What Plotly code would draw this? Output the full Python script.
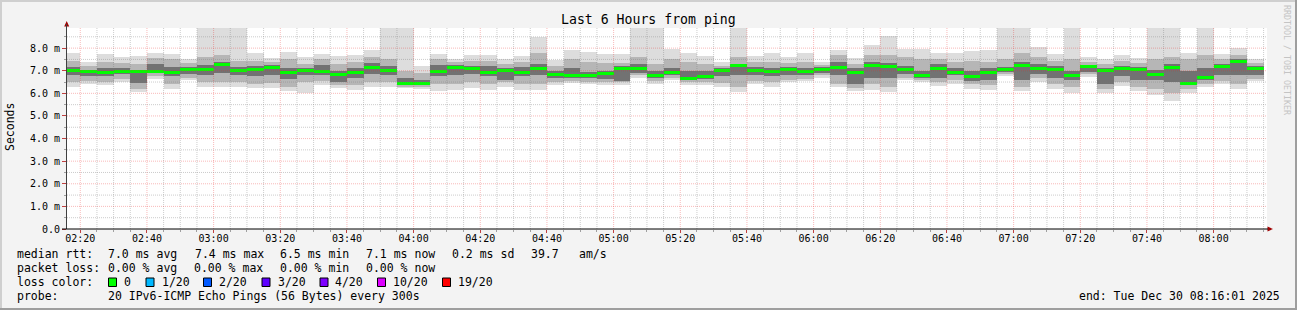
import plotly.graph_objects as go
import pandas as pd

# ---------------- data (milliseconds) ----------------
bin_start = pd.date_range("2025-12-30 02:15:00", periods=72, freq="5min")

ping_min = [6.26,6.43,6.38,6.52,6.08,6.64,6.20,6.60,6.29,6.26, 6.26,6.23,6.23,6.12,6.00,6.35,6.23,6.15,6.30,6.26,
            6.23,6.18,6.12,6.15,6.23,6.15,6.30,6.15,6.15,6.38, 6.45,6.40,6.35,6.38,6.67,6.42,6.60,6.38,6.38,6.30,
            6.08,6.40,6.30,6.49,6.55,6.70,6.26,6.12,6.15,6.08, 6.60,6.49,6.32,6.43,6.20,6.15,6.77,6.11,6.52,6.18,
            6.00,6.74,6.03,6.33,6.11,5.93,5.68,6.00,6.27,6.41, 6.18,6.56]
ping_lo2 = [6.50,6.55,6.50,6.65,6.20,6.75,6.40,6.70,6.50,6.50, 6.50,6.40,6.45,6.30,6.50,6.55,6.35,6.35,6.50,6.50,
            6.30,6.30,6.40,6.40,6.50,6.40,6.50,6.40,6.40,6.50, 6.55,6.50,6.50,6.50,6.80,6.55,6.70,6.50,6.50,6.45,
            6.30,6.55,6.50,6.60,6.65,6.80,6.40,6.25,6.40,6.30, 6.70,6.60,6.50,6.60,6.40,6.35,6.85,6.30,6.70,6.40,
            6.30,6.85,6.20,6.50,6.30,6.20,6.00,6.20,6.40,6.55, 6.40,6.65]
ping_lo3 = [6.80,6.75,6.75,6.85,6.45,6.90,6.75,6.85,6.80,6.90, 6.80,6.75,6.80,6.65,6.80,6.80,6.50,6.70,6.85,6.80,
            6.40,6.38,6.75,6.80,6.85,6.75,6.60,6.75,6.80,6.70, 6.70,6.70,6.65,6.55,6.90,6.70,6.80,6.60,6.65,6.75,
            6.80,6.80,6.75,6.80,6.80,6.90,6.80,6.40,6.70,6.70, 6.85,6.70,6.70,6.80,6.55,6.60,6.95,6.60,6.85,6.70,
            6.60,6.95,6.40,6.75,6.60,6.60,6.50,6.35,6.60,6.80, 6.80,6.80]
ping_med = [7.00,6.95,6.92,6.95,6.96,6.98,6.94,7.05,7.05,7.26, 7.01,7.05,7.13,6.91,6.99,6.98,6.82,6.94,7.16,7.02,
            6.45,6.43,6.98,7.14,7.11,6.92,6.99,6.94,7.11,6.85, 6.77,6.77,6.88,7.10,7.10,6.80,6.91,6.66,6.76,7.01,
            7.22,7.01,6.95,7.05,6.95,7.05,7.13,6.92,7.25,7.20, 7.07,6.79,7.08,6.94,6.74,6.92,7.04,7.24,7.11,7.07,
            6.81,7.17,6.99,7.11,7.04,6.85,7.14,6.45,6.72,7.18, 7.40,7.09]
ping_hi3 = [7.15,7.05,7.10,7.10,7.05,7.30,7.15,7.15,7.25,7.40, 7.15,7.20,7.25,7.10,7.10,7.25,7.00,7.10,7.35,7.20,
            6.70,6.60,7.25,7.25,7.20,7.20,7.10,7.15,7.30,7.00, 7.10,6.95,7.00,7.20,7.30,7.00,7.10,7.00,7.00,7.10,
            7.30,7.15,7.10,7.15,7.10,7.15,7.40,7.10,7.40,7.35, 7.20,7.00,7.30,7.10,7.00,7.10,7.15,7.40,7.30,7.20,
            7.00,7.25,7.10,7.20,7.15,7.05,7.30,7.00,7.10,7.30, 7.50,7.20]
ping_hi2 = [7.45,7.20,7.40,7.35,7.30,7.55,7.50,7.35,7.60,7.70, 7.45,7.45,7.40,7.50,7.30,7.50,7.30,7.40,7.60,7.50,
            7.00,6.90,7.50,7.40,7.45,7.45,7.30,7.40,7.80,7.20, 7.50,7.40,7.35,7.35,7.60,7.30,7.50,7.40,7.30,7.20,
            7.60,7.40,7.40,7.35,7.40,7.25,7.70,7.30,7.70,7.70, 7.60,7.50,7.50,7.40,7.45,7.40,7.50,7.80,7.60,7.45,
            7.50,7.40,7.30,7.45,7.35,7.50,7.60,7.50,7.70,7.50, 7.70,7.35]
ping_max = [7.79,7.38,7.75,7.61,7.66,7.79,7.75,7.53,9.50,9.50, 9.50,7.79,7.57,7.85,7.61,7.75,7.66,7.70,7.92,9.50,
            9.50,7.23,7.75,7.53,7.70,7.70,7.53,7.66,8.50,7.48, 7.92,7.82,7.75,7.75,9.50,9.50,7.95,7.78,7.66,7.38,
            9.50,7.63,7.79,7.61,7.79,7.38,7.91,7.56,8.15,8.54, 7.97,7.97,7.79,7.78,7.88,7.92,9.50,9.50,8.04,7.74,
            9.50,7.60,7.50,7.70,7.55,9.50,9.50,7.80,9.50,7.74, 7.99,7.50]

y_tick_vals = [0, 1, 2, 3, 4, 5, 6, 7, 8]
y_tick_text = ["0.0", "1.0 m", "2.0 m", "3.0 m", "4.0 m", "5.0 m", "6.0 m", "7.0 m", "8.0 m"]

loss_labels = ["0", "1/20", "2/20", "3/20", "4/20", "10/20", "19/20"]
loss_colors = ["#00ff00", "#00b8ff", "#0059ff", "#5e00ff", "#7e00ff", "#dd00ff", "#ff0000"]

rtt_stats = ["7.0 ms avg", "7.4 ms max", "6.5 ms min", "7.1 ms now", "0.2 ms sd", "39.7", "am/s"]
loss_stats = ["0.00 % avg", "0.00 % max", "0.00 % min", "0.00 % now"]

# ---------------- layout geometry ----------------
W, H = 1297, 310
L, R, T, B = 67, 30, 28, 81
PW, PH = W - L - R, H - T - B
X0 = pd.Timestamp("2025-12-30 02:16:01")
X1 = pd.Timestamp("2025-12-30 08:16:01")
YMAX = 8.89
MONO = "DejaVu Sans Mono"


def px(xp):
    return (xp - L) / PW


def py(yp):
    return (H - B - yp) / PH


centers = bin_start + pd.Timedelta(seconds=150)
BW = 300000

fig = go.Figure()


def band(lo, hi, color):
    fig.add_trace(go.Bar(
        x=centers, base=lo, y=[h - l for l, h in zip(lo, hi)], width=BW,
        marker=dict(color=color, line=dict(width=0)), hoverinfo="skip", showlegend=False))


band(ping_min, ping_max, "#dddddd")
band(ping_lo2, ping_hi2, "#b6b6b6")
band(ping_lo3, ping_hi3, "#727272")
MT = 0.135
band([m - MT / 2 for m in ping_med], [m + MT / 2 for m in ping_med], "#00ff00")

shapes = []
# grid (drawn above the smoke, like rrdtool)
t = pd.Timestamp("2025-12-30 02:20:00")
while t < X1:
    major = (t.minute % 20 == 0)
    shapes.append(dict(type="line", xref="x", yref="paper", x0=t, x1=t, y0=0, y1=1, layer="above",
                       line=dict(color="rgba(235,40,40,0.32)" if major else "rgba(120,120,120,0.38)",
                                 width=1, dash="1px,1px")))
    t += pd.Timedelta(minutes=5)
for k in range(1, 18):
    v = k * 0.5
    major = (k % 2 == 0)
    shapes.append(dict(type="line", xref="paper", yref="y", x0=0, x1=1, y0=v, y1=v, layer="above",
                       line=dict(color="rgba(235,40,40,0.32)" if major else "rgba(120,120,120,0.38)",
                                 width=1, dash="1px,1px")))

# frame of the canvas
shapes.append(dict(type="line", xref="paper", yref="paper", x0=px(0), x1=px(W), y0=py(1), y1=py(1),
                   line=dict(color="#cfcfcf", width=2)))
shapes.append(dict(type="line", xref="paper", yref="paper", x0=px(1), x1=px(1), y0=py(0), y1=py(H),
                   line=dict(color="#cfcfcf", width=2)))
shapes.append(dict(type="line", xref="paper", yref="paper", x0=px(0), x1=px(W), y0=py(H - 1), y1=py(H - 1),
                   line=dict(color="#9e9e9e", width=2)))
shapes.append(dict(type="line", xref="paper", yref="paper", x0=px(W - 1), x1=px(W - 1), y0=py(0), y1=py(H),
                   line=dict(color="#9e9e9e", width=2)))

# axis arrows and axis lines
shapes.append(dict(type="path", xref="paper", yref="paper",
                   path=f"M {px(64.2)} {py(26.5)} L {px(69.2)} {py(26.5)} L {px(66.7)} {py(21)} Z",
                   fillcolor="#a00000", line=dict(width=0)))
shapes.append(dict(type="path", xref="paper", yref="paper",
                   path=f"M {px(1267.5)} {py(226.5)} L {px(1267.5)} {py(231.5)} L {px(1273)} {py(229)} Z",
                   fillcolor="#a00000", line=dict(width=0)))
shapes.append(dict(type="line", xref="paper", yref="paper", x0=px(66.5), x1=px(66.5), y0=py(229), y1=py(24),
                   line=dict(color="#404040", width=1)))
shapes.append(dict(type="line", xref="paper", yref="paper", x0=px(62), x1=px(1268), y0=py(229), y1=py(229),
                   line=dict(color="#000000", width=1)))

ann = []


def text(xp, yp, s, size=11.5, anchor="left", color="#000000", angle=0):
    ann.append(dict(x=px(xp), y=py(yp), xref="paper", yref="paper", text=s, showarrow=False,
                    xanchor=anchor, yanchor="middle", textangle=angle, borderpad=0,
                    font=dict(family=MONO, size=size, color=color)))


text(648, 19, "Last 6 Hours from ping", size=13.2, anchor="center")
text(10, 127, "Seconds", size=11.5, anchor="center", angle=-90)
text(1287, 60, "RRDTOOL / TOBI OETIKER", size=8.3, anchor="center", color="#c4c4c4", angle=90)

text(16, 254.3, "median rtt:")
for xp, s in zip([107.3, 194, 279.3, 365, 451, 530, 578.3], rtt_stats):
    text(xp, 254.3, s)
text(16, 268.3, "packet loss:")
for xp, s in zip([107.3, 193.3, 279.3, 365], loss_stats):
    text(xp, 268.3, s)
text(16, 282.3, "loss color:")
box_x = [108.5, 146, 203.5, 262, 320, 377.5, 442.5]
lab_x = [123, 160.7, 218, 276.7, 334, 391.7, 457]
for bx, lx, lab, col in zip(box_x, lab_x, loss_labels, loss_colors):
    shapes.append(dict(type="rect", xref="paper", yref="paper", x0=px(bx), x1=px(bx + 8), y0=py(278), y1=py(286.5),
                       fillcolor=col, line=dict(color="#000000", width=1)))
    text(lx, 282.3, lab)
text(16, 296, "probe:")
text(107.3, 296, "20 IPv6-ICMP Echo Pings (56 Bytes) every 300s")
text(1281, 296, "end: Tue Dec 30 08:16:01 2025", anchor="right")

fig.update_layout(
    width=W, height=H, margin=dict(l=L, r=R, t=T, b=B, pad=0),
    paper_bgcolor="#f3f3f3", plot_bgcolor="#ffffff",
    barmode="overlay", bargap=0, showlegend=False,
    shapes=shapes, annotations=ann,
    xaxis=dict(type="date", range=[X0, X1], showgrid=False, zeroline=False, showline=False,
               tickmode="linear", tick0="2025-12-30 02:20:00", dtick=20 * 60 * 1000, tickformat="%H:%M",
               ticks="outside", ticklen=3, tickcolor="#c04040", tickwidth=1, ticklabelstandoff=-3,
               minor=dict(dtick=5 * 60 * 1000, tick0="2025-12-30 02:20:00", ticks="outside", ticklen=2,
                          tickcolor="#a0a0a0", showgrid=False),
               tickfont=dict(family=MONO, size=10, color="#000000"), fixedrange=True),
    yaxis=dict(range=[0, YMAX], showgrid=False, zeroline=False, showline=False,
               tickmode="array", tickvals=y_tick_vals, ticktext=y_tick_text,
               ticks="outside", ticklen=4, tickcolor="#c04040", tickwidth=1,
               minor=dict(tickmode="linear", tick0=0, dtick=0.5, ticks="outside", ticklen=2,
                          tickcolor="#a0a0a0", showgrid=False),
               tickfont=dict(family=MONO, size=10, color="#000000"), fixedrange=True),
)

fig.write_html("out.html", config={"displayModeBar": False})
